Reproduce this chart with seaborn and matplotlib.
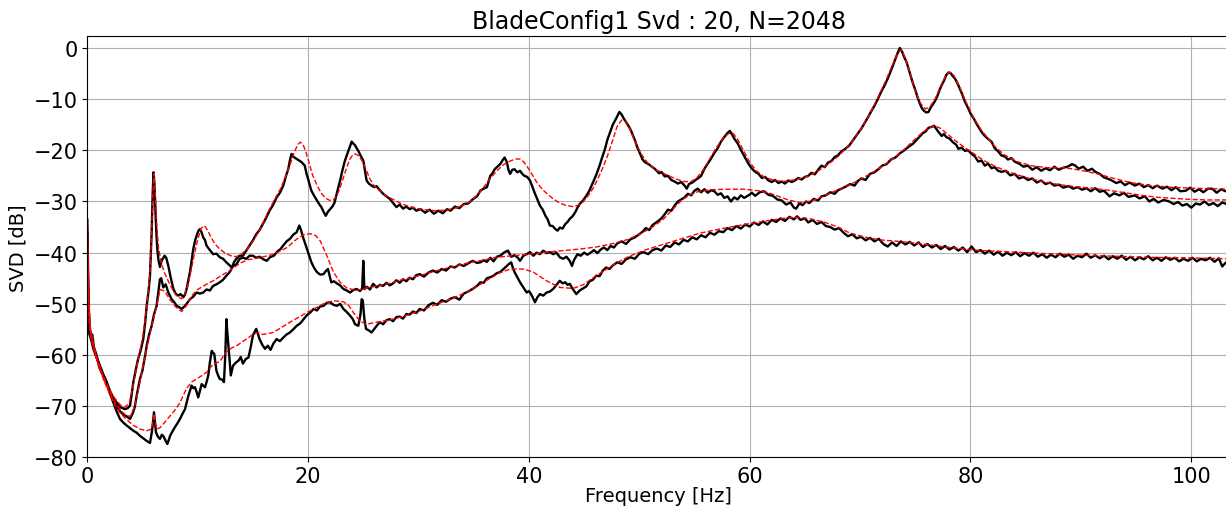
"""
BladeConfig1 SVD spectrum: three singular-value curves (measured, black)
with their fitted model curves (red dashed).
"""

import numpy as np
import pandas as pd
import matplotlib
matplotlib.use('Agg')
import matplotlib.pyplot as plt
import seaborn as sns

# --- measured singular values (black) -------------------------------------
sv1_freq = [0.0, 0.1, 0.2, 0.3, 0.45, 0.6, 0.85, 1.1, 1.4, 1.75, 2.05, 2.36, 2.65, 2.96, 3.2, 3.4, 3.65, 3.87,
            4.0, 4.17, 4.4, 4.6, 4.85, 5.07, 5.25, 5.38, 5.55, 5.68, 5.83, 5.93, 6.0, 6.08, 6.15, 6.25, 6.34,
            6.45, 6.58, 6.75, 7.0, 7.15, 7.34, 7.55, 7.8, 8.0, 8.24, 8.45, 8.7, 8.85, 9.0, 9.15, 9.3, 9.45,
            9.6, 9.75, 9.9, 10.05, 10.2, 10.35, 10.5, 10.65, 10.8, 11.1, 11.4, 11.7, 12.0, 12.3, 12.6, 12.85,
            13.1, 13.3, 13.5, 13.8, 14.1, 14.4, 14.7, 15.0, 15.3, 15.6, 15.9, 16.2, 16.5, 16.8, 17.15, 17.45,
            17.75, 18.0, 18.2, 18.35, 18.5, 18.7, 18.97, 19.2, 19.45, 19.7, 19.85, 20.0, 20.15, 20.3, 20.55,
            20.8, 21.0, 21.2, 21.4, 21.6, 21.8, 22.0, 22.2, 22.4, 22.65, 22.9, 23.1, 23.3, 23.45, 23.6, 23.8,
            23.95, 24.1, 24.25, 24.4, 24.55, 24.75, 25.0, 25.15, 25.3, 25.5, 25.75, 26.0, 26.2, 26.5, 26.8,
            27.1, 27.4, 27.7, 28.0, 28.3, 28.6, 28.9, 29.2, 29.5, 29.8, 30.2, 30.6, 31.0, 31.4, 31.8, 32.2,
            32.6, 32.9, 33.3, 33.7, 34.1, 34.5, 34.9, 35.3, 35.6, 35.9, 36.2, 36.5, 36.7, 36.9, 37.15, 37.4,
            37.6, 37.8, 38.0, 38.15, 38.3, 38.5, 38.7, 38.95, 39.2, 39.4, 39.6, 39.85, 40.1, 40.3, 40.5, 40.75,
            41.0, 41.25, 41.5, 41.7, 41.9, 42.15, 42.4, 42.6, 42.8, 43.05, 43.3, 43.5, 43.7, 43.95, 44.2, 44.4,
            44.6, 44.9, 45.2, 45.5, 45.8, 46.1, 46.4, 46.65, 46.9, 47.1, 47.35, 47.6, 47.9, 48.2, 48.4, 48.6,
            48.9, 49.1, 49.3, 49.6, 49.8, 50.0, 50.3, 50.5, 50.9, 51.2, 51.4, 51.8, 52.0, 52.3, 52.6, 52.9,
            53.2, 53.5, 53.8, 54.1, 54.3, 54.5, 54.8, 55.1, 55.3, 55.6, 55.9, 56.2, 56.5, 56.8, 57.1, 57.4,
            57.7, 58.0, 58.2, 58.4, 58.6, 58.9, 59.1, 59.3, 59.6, 59.8, 60.0, 60.3, 60.5, 60.8, 61.1, 61.4,
            61.7, 62.0, 62.3, 62.6, 62.9, 63.2, 63.5, 63.8, 64.1, 64.4, 64.7, 65.0, 65.3, 65.6, 65.9, 66.2,
            66.5, 66.8, 67.1, 67.4, 67.7, 68.0, 68.3, 68.6, 69.0, 69.3, 69.6, 69.8, 70.1, 70.4, 70.7, 71.0,
            71.3, 71.6, 71.9, 72.2, 72.5, 72.8, 73.1, 73.4, 73.6, 73.8, 74.0, 74.2, 74.4, 74.6, 74.8, 75.0,
            75.2, 75.4, 75.6, 75.8, 76.0, 76.2, 76.4, 76.6, 76.8, 77.0, 77.2, 77.4, 77.6, 77.8, 78.0, 78.2,
            78.4, 78.6, 78.8, 79.0, 79.2, 79.5, 79.8, 80.0, 80.3, 80.6, 81.0, 81.3, 81.6, 81.9, 82.2, 82.5,
            82.8, 83.1, 83.4, 83.7, 84.0, 84.4, 84.8, 85.2, 85.6, 86.0, 86.4, 86.8, 87.2, 87.6, 88.0, 88.4,
            88.8, 89.2, 89.5, 89.8, 90.2, 90.6, 91.0, 91.3, 91.7, 92.1, 92.5, 92.8, 93.2, 93.6, 94.0, 94.4,
            94.9, 95.3, 95.7, 96.1, 96.5, 96.9, 97.4, 97.8, 98.2, 98.6, 99.0, 99.5, 99.9, 100.3, 100.7, 101.1,
            101.5, 101.9, 102.3, 102.7, 103.1, 103.7]
sv1_db = [-33.4, -48.0, -55.5, -56.5, -56.0, -58.5, -60.1, -62.5, -63.8, -65.3, -67.0, -68.4, -69.3, -70.2,
          -70.4, -70.6, -70.4, -69.9, -68.0, -65.3, -62.8, -60.8, -59.0, -56.9, -53.5, -50.4, -47.5, -44.5,
          -36.0, -28.0, -24.3, -26.5, -30.5, -36.0, -39.3, -41.5, -42.8, -41.5, -40.6, -41.0, -42.6, -44.8,
          -47.1, -48.0, -48.4, -48.1, -48.7, -48.2, -47.1, -45.5, -43.8, -41.5, -39.3, -37.8, -36.7, -35.8,
          -35.4, -36.0, -37.0, -37.5, -38.6, -39.5, -40.3, -40.2, -40.9, -41.2, -41.9, -42.4, -42.9, -41.8,
          -41.2, -40.6, -40.6, -39.6, -38.6, -37.6, -36.4, -35.6, -34.4, -33.2, -31.8, -30.8, -29.2, -28.3,
          -26.9, -25.0, -23.7, -22.0, -20.7, -21.3, -21.7, -22.0, -22.4, -23.0, -24.5, -25.6, -26.8, -27.9,
          -28.9, -29.8, -30.5, -31.1, -32.0, -32.8, -32.0, -31.5, -31.0, -30.2, -28.0, -25.9, -24.0, -22.3,
          -21.3, -20.4, -19.2, -18.3, -18.7, -19.0, -19.6, -20.1, -21.0, -22.0, -24.0, -25.9, -26.5, -26.9,
          -27.2, -27.0, -27.8, -28.5, -29.0, -29.5, -30.3, -31.1, -30.6, -31.4, -31.0, -31.5, -31.2, -31.8,
          -31.5, -32.2, -31.6, -32.4, -31.8, -32.3, -31.5, -31.8, -31.0, -31.3, -30.5, -30.4, -29.6, -29.0,
          -27.9, -27.5, -27.2, -25.0, -24.5, -23.7, -23.2, -22.7, -22.0, -21.4, -22.3, -23.8, -24.6, -23.8,
          -23.7, -24.3, -24.0, -24.6, -25.0, -25.2, -25.9, -27.0, -28.2, -29.5, -30.8, -31.6, -32.8, -33.5,
          -34.7, -34.8, -35.4, -35.7, -35.1, -35.3, -34.4, -34.0, -33.4, -32.9, -32.1, -31.2, -30.5, -29.8,
          -28.9, -27.8, -26.3, -24.8, -23.0, -21.3, -19.7, -18.0, -16.5, -15.0, -13.8, -12.5, -13.0, -13.8,
          -14.8, -15.5, -16.4, -18.0, -19.3, -20.3, -21.8, -22.3, -22.8, -23.3, -23.6, -24.5, -24.2, -25.1,
          -25.0, -25.8, -26.1, -26.5, -26.2, -26.9, -27.5, -26.6, -26.3, -25.8, -25.5, -25.0, -23.6, -22.6,
          -21.6, -20.5, -19.6, -18.3, -17.4, -16.6, -16.2, -16.9, -17.7, -18.6, -19.5, -20.3, -21.5, -22.3,
          -23.0, -23.8, -24.2, -24.6, -25.4, -25.2, -25.9, -26.2, -25.8, -26.4, -26.1, -26.5, -25.9, -26.2,
          -25.9, -25.4, -25.7, -25.2, -25.0, -24.4, -24.7, -23.8, -23.0, -23.3, -22.4, -22.1, -21.3, -21.0,
          -20.2, -19.8, -19.1, -18.2, -17.3, -16.7, -15.8, -14.7, -13.6, -12.4, -11.3, -10.0, -8.6, -7.4,
          -6.0, -4.4, -2.7, -1.0, 0.0, -0.7, -1.8, -2.7, -4.1, -5.6, -7.0, -8.2, -9.6, -10.8, -11.8, -12.3,
          -12.6, -12.5, -11.6, -11.0, -10.3, -9.4, -8.2, -7.2, -6.4, -5.3, -4.8, -4.9, -5.5, -6.0, -6.8,
          -7.8, -8.8, -10.5, -11.8, -12.8, -13.8, -15.0, -16.4, -17.2, -17.8, -18.3, -19.6, -20.2, -21.0,
          -21.2, -21.8, -21.5, -22.2, -22.6, -23.2, -23.0, -23.8, -23.3, -24.0, -23.5, -23.9, -23.2, -23.8,
          -23.4, -23.2, -22.7, -23.0, -23.6, -23.2, -24.0, -23.6, -24.2, -24.6, -25.3, -25.6, -25.9, -26.4,
          -26.1, -26.8, -26.3, -26.9, -26.5, -27.2, -26.8, -27.4, -26.9, -27.5, -27.1, -27.8, -27.2, -28.0,
          -27.9, -27.3, -28.1, -27.6, -28.2, -27.5, -27.5, -28.3, -27.6, -28.0, -27.6]

sv2_freq = [0.0, 0.1, 0.2, 0.35, 0.55, 0.85, 1.15, 1.45, 1.75, 2.05, 2.36, 2.65, 2.96, 3.25, 3.57, 3.87, 4.1,
            4.3, 4.47, 4.65, 4.77, 5.0, 5.07, 5.25, 5.38, 5.6, 5.83, 6.05, 6.28, 6.42, 6.58, 6.7, 6.88, 7.1,
            7.34, 7.64, 7.85, 8.1, 8.35, 8.55, 8.85, 9.1, 9.3, 9.6, 9.9, 10.2, 10.5, 10.8, 11.1, 11.4, 11.7,
            12.0, 12.3, 12.6, 12.9, 13.2, 13.5, 13.8, 14.1, 14.4, 14.7, 15.0, 15.3, 15.6, 15.95, 16.25, 16.55,
            16.9, 17.2, 17.5, 17.75, 18.05, 18.36, 18.65, 18.97, 19.2, 19.35, 19.5, 19.7, 19.9, 20.1, 20.3,
            20.55, 20.8, 21.1, 21.4, 21.6, 21.8, 22.1, 22.35, 22.6, 22.9, 23.2, 23.5, 23.8, 24.1, 24.4, 24.7,
            24.9, 25.0, 25.1, 25.35, 25.6, 25.9, 26.2, 26.5, 26.8, 27.1, 27.4, 27.7, 28.0, 28.3, 28.6, 28.9,
            29.2, 29.5, 29.8, 30.1, 30.5, 30.9, 31.3, 31.7, 32.1, 32.5, 32.9, 33.3, 33.7, 34.1, 34.5, 34.9,
            35.3, 35.6, 35.9, 36.2, 36.5, 36.8, 37.1, 37.4, 37.8, 38.1, 38.4, 38.7, 39.0, 39.2, 39.5, 39.8,
            40.1, 40.4, 40.7, 41.0, 41.3, 41.6, 41.9, 42.2, 42.5, 42.8, 43.1, 43.4, 43.7, 43.9, 44.1, 44.4,
            44.7, 45.0, 45.3, 45.6, 45.9, 46.2, 46.5, 46.8, 47.1, 47.4, 47.7, 48.0, 48.4, 48.8, 49.2, 49.6,
            50.0, 50.3, 50.6, 50.9, 51.2, 51.6, 52.0, 52.3, 52.6, 52.9, 53.2, 53.5, 53.8, 54.1, 54.4, 54.7,
            55.0, 55.3, 55.6, 55.9, 56.2, 56.5, 56.8, 57.1, 57.4, 57.7, 58.0, 58.3, 58.6, 58.9, 59.2, 59.5,
            59.9, 60.2, 60.5, 60.9, 61.3, 61.7, 62.1, 62.5, 62.9, 63.3, 63.7, 64.0, 64.2, 64.5, 64.8, 65.1,
            65.4, 65.8, 66.2, 66.5, 66.9, 67.3, 67.7, 68.0, 68.3, 68.7, 69.1, 69.5, 69.8, 70.1, 70.5, 70.9,
            71.3, 71.7, 72.0, 72.4, 72.8, 73.2, 73.6, 74.0, 74.4, 74.8, 75.1, 75.4, 75.7, 75.9, 76.2, 76.5,
            76.7, 76.9, 77.1, 77.4, 77.6, 77.8, 78.1, 78.4, 78.7, 78.9, 79.2, 79.5, 79.8, 80.1, 80.4, 80.7,
            81.0, 81.3, 81.6, 81.9, 82.2, 82.5, 82.8, 83.2, 83.6, 84.0, 84.4, 84.8, 85.2, 85.6, 86.0, 86.4,
            86.8, 87.2, 87.6, 88.0, 88.4, 88.9, 89.3, 89.7, 90.1, 90.5, 90.9, 91.3, 91.7, 92.1, 92.6, 93.0,
            93.5, 93.9, 94.3, 94.9, 95.3, 95.8, 96.2, 96.6, 97.0, 97.5, 98.0, 98.4, 98.8, 99.2, 99.6, 100.0,
            100.4, 100.8, 101.2, 101.6, 102.0, 102.4, 102.8, 103.2, 103.7]
sv2_db = [-36.0, -50.0, -55.0, -56.0, -58.5, -60.5, -62.5, -64.0, -65.5, -67.3, -69.0, -70.0, -71.0, -71.6,
          -72.0, -72.5, -71.5, -70.2, -68.0, -66.0, -64.7, -63.0, -62.1, -60.0, -58.2, -56.0, -54.3, -52.0,
          -50.4, -48.0, -45.2, -45.0, -46.8, -46.2, -47.8, -49.1, -49.6, -50.4, -50.7, -51.0, -50.4, -49.7,
          -49.1, -48.6, -47.8, -48.0, -47.8, -47.2, -47.4, -46.5, -46.2, -45.8, -45.3, -44.5, -43.8, -42.6,
          -42.3, -41.2, -41.0, -41.2, -40.6, -40.6, -41.0, -40.8, -41.3, -41.6, -40.9, -40.6, -39.8, -39.3,
          -38.6, -37.8, -37.3, -36.5, -36.0, -34.7, -35.5, -36.7, -38.0, -39.3, -40.6, -41.9, -43.0, -43.8,
          -44.3, -44.2, -43.6, -43.2, -45.8, -45.6, -46.0, -46.4, -47.1, -47.4, -47.8, -47.3, -47.1, -47.5,
          -47.0, -41.6, -47.1, -46.7, -47.2, -46.1, -46.8, -46.3, -46.5, -45.9, -46.4, -46.0, -45.4, -45.9,
          -45.2, -45.6, -44.9, -45.2, -44.4, -44.2, -44.7, -43.9, -43.5, -43.9, -43.2, -43.5, -42.7, -42.9,
          -42.3, -42.6, -42.1, -41.6, -42.0, -41.9, -41.5, -41.8, -41.0, -41.7, -40.8, -40.6, -39.9, -39.6,
          -40.8, -40.5, -41.0, -41.6, -40.6, -40.3, -39.9, -40.6, -40.0, -40.3, -39.6, -40.1, -39.9, -40.3,
          -40.0, -40.9, -41.2, -40.8, -41.6, -42.6, -41.4, -40.3, -40.6, -40.0, -40.4, -40.0, -39.5, -40.1,
          -39.4, -39.0, -39.5, -38.7, -39.0, -38.2, -37.8, -38.3, -37.4, -37.0, -36.4, -35.9, -35.2, -35.6,
          -34.6, -34.0, -33.3, -32.5, -31.6, -31.8, -30.8, -30.0, -29.6, -29.2, -28.5, -28.8, -27.9, -27.5,
          -28.2, -27.6, -28.3, -27.8, -28.0, -28.7, -28.4, -29.3, -29.0, -30.0, -29.2, -29.6, -28.8, -29.3,
          -28.8, -28.3, -28.9, -28.2, -28.0, -28.7, -28.9, -29.6, -29.8, -30.6, -30.2, -31.2, -31.4, -30.4,
          -30.7, -30.0, -30.3, -29.5, -29.8, -29.0, -28.8, -28.2, -28.5, -27.8, -27.5, -27.1, -26.6, -26.9,
          -26.0, -25.5, -25.8, -24.6, -24.3, -23.6, -23.0, -22.7, -21.8, -21.4, -20.6, -20.0, -19.3, -18.7,
          -18.0, -17.3, -16.6, -16.4, -15.6, -15.4, -15.2, -15.8, -16.4, -17.2, -16.8, -17.4, -17.7, -18.4,
          -18.9, -19.7, -19.5, -20.1, -20.0, -20.7, -21.2, -22.2, -22.0, -23.0, -22.6, -23.5, -23.3, -24.0,
          -24.2, -24.0, -24.9, -24.6, -25.5, -25.2, -25.8, -25.5, -26.3, -25.9, -26.6, -26.3, -26.9, -26.7,
          -27.3, -27.0, -27.5, -27.2, -27.7, -27.4, -28.0, -27.4, -28.1, -27.9, -29.0, -28.4, -28.8, -28.3,
          -29.1, -28.8, -29.4, -29.0, -30.0, -29.5, -30.2, -29.7, -30.0, -30.5, -30.1, -30.8, -30.5, -31.2,
          -30.4, -30.6, -30.0, -30.7, -30.3, -30.9, -30.2, -30.5, -30.0]

sv3_freq = [0.0, 0.1, 0.2, 0.35, 0.55, 0.85, 1.15, 1.45, 1.75, 2.05, 2.36, 2.65, 2.96, 3.25, 3.57, 3.87, 4.17,
            4.47, 4.77, 5.07, 5.38, 5.68, 5.85, 5.92, 6.04, 6.15, 6.22, 6.4, 6.58, 6.75, 6.9, 7.1, 7.25, 7.4,
            7.5, 7.7, 7.94, 8.15, 8.4, 8.6, 8.85, 9.0, 9.15, 9.3, 9.45, 9.6, 9.75, 9.9, 10.05, 10.2, 10.36,
            10.5, 10.66, 10.8, 10.96, 11.1, 11.27, 11.4, 11.5, 11.6, 11.7, 11.85, 12.0, 12.2, 12.38, 12.5,
            12.6, 12.7, 12.8, 13.0, 13.2, 13.45, 13.7, 13.9, 14.1, 14.35, 14.6, 14.8, 15.0, 15.3, 15.45, 15.6,
            15.85, 16.1, 16.35, 16.6, 16.85, 17.15, 17.45, 17.75, 18.05, 18.36, 18.65, 18.97, 19.3, 19.6,
            19.9, 20.2, 20.5, 20.8, 21.1, 21.4, 21.7, 22.0, 22.3, 22.6, 22.9, 23.2, 23.5, 23.8, 24.05, 24.25,
            24.55, 24.75, 24.85, 24.95, 25.1, 25.25, 25.5, 25.75, 26.0, 26.25, 26.5, 26.8, 27.1, 27.4, 27.7,
            28.0, 28.3, 28.6, 28.9, 29.2, 29.5, 29.8, 30.1, 30.5, 30.9, 31.3, 31.7, 32.1, 32.5, 32.9, 33.3,
            33.7, 34.1, 34.5, 34.9, 35.3, 35.6, 35.9, 36.2, 36.5, 36.8, 37.1, 37.4, 37.7, 38.0, 38.2, 38.4,
            38.55, 38.7, 38.95, 39.2, 39.5, 39.8, 40.0, 40.2, 40.4, 40.55, 40.75, 41.0, 41.3, 41.6, 41.9,
            42.2, 42.5, 42.8, 43.05, 43.3, 43.5, 43.7, 44.0, 44.3, 44.6, 44.9, 45.2, 45.5, 45.8, 46.1, 46.4,
            46.7, 47.0, 47.3, 47.6, 48.0, 48.4, 48.8, 49.2, 49.6, 50.0, 50.4, 50.8, 51.2, 51.6, 52.0, 52.4,
            52.8, 53.2, 53.6, 54.0, 54.4, 54.8, 55.2, 55.6, 56.0, 56.4, 56.8, 57.2, 57.6, 58.0, 58.4, 58.8,
            59.2, 59.6, 60.0, 60.4, 60.8, 61.2, 61.6, 62.0, 62.4, 62.8, 63.2, 63.6, 64.0, 64.3, 64.6, 65.0,
            65.3, 65.7, 66.1, 66.5, 66.9, 67.3, 67.7, 68.1, 68.5, 68.9, 69.3, 69.7, 70.1, 70.5, 70.9, 71.3,
            71.7, 72.1, 72.5, 72.9, 73.3, 73.7, 74.1, 74.5, 74.9, 75.3, 75.7, 76.1, 76.5, 76.9, 77.3, 77.7,
            78.1, 78.5, 78.9, 79.3, 79.7, 80.1, 80.5, 80.9, 81.3, 81.7, 82.1, 82.5, 82.9, 83.3, 83.7, 84.1,
            84.5, 84.9, 85.3, 85.7, 86.1, 86.5, 86.9, 87.3, 87.7, 88.1, 88.5, 88.9, 89.3, 89.7, 90.1, 90.5,
            90.9, 91.3, 91.7, 92.1, 92.5, 92.9, 93.3, 93.7, 94.1, 94.5, 94.9, 95.3, 95.7, 96.1, 96.5, 96.9,
            97.3, 97.7, 98.1, 98.5, 98.9, 99.3, 99.7, 100.1, 100.5, 100.9, 101.3, 101.7, 102.1, 102.5, 102.8,
            103.1, 103.7]
sv3_db = [-40.0, -52.0, -56.0, -57.0, -58.8, -60.5, -62.1, -63.8, -65.3, -67.5, -69.3, -71.0, -72.5, -73.2,
          -73.8, -74.3, -74.8, -75.2, -75.8, -76.3, -76.8, -77.2, -75.0, -73.8, -71.2, -73.5, -75.1, -76.0,
          -76.4, -75.6, -75.9, -76.8, -77.4, -76.5, -75.8, -75.0, -74.1, -73.4, -72.5, -71.6, -70.6, -69.3,
          -68.0, -67.0, -66.0, -66.5, -66.3, -67.2, -68.3, -67.0, -65.7, -66.0, -66.3, -65.3, -64.0, -61.5,
          -59.2, -59.6, -59.8, -61.5, -63.1, -64.0, -64.7, -64.8, -65.3, -60.0, -53.0, -56.0, -58.6, -64.0,
          -62.1, -61.5, -61.1, -60.4, -61.7, -60.8, -60.5, -58.5, -56.2, -54.9, -55.8, -56.9, -58.0, -58.8,
          -58.2, -59.0, -57.8, -56.9, -57.3, -56.6, -56.0, -55.6, -55.0, -54.3, -53.8, -53.0, -52.2, -51.7,
          -51.0, -51.3, -50.5, -50.4, -49.8, -49.7, -50.2, -50.4, -50.0, -51.0, -51.6, -52.3, -53.0, -54.0,
          -54.3, -52.0, -49.1, -49.3, -53.0, -54.9, -55.2, -55.6, -54.9, -54.2, -53.6, -54.0, -53.2, -53.0,
          -53.4, -52.6, -52.5, -52.9, -52.0, -52.1, -51.5, -51.8, -51.0, -51.3, -50.3, -49.8, -50.2, -49.3,
          -49.6, -49.0, -48.7, -49.2, -48.0, -47.6, -47.1, -46.5, -45.8, -45.9, -45.0, -44.8, -44.5, -44.0,
          -43.8, -43.2, -42.6, -42.2, -41.9, -43.0, -43.8, -44.8, -45.8, -46.8, -47.8, -47.5, -48.1, -49.0,
          -49.7, -48.8, -48.1, -48.4, -47.8, -47.6, -47.1, -46.3, -45.5, -46.0, -45.8, -46.3, -46.1, -47.2,
          -48.1, -47.4, -47.0, -46.6, -45.6, -45.3, -44.5, -44.6, -43.5, -42.9, -43.2, -42.5, -41.9, -42.2,
          -41.3, -40.9, -41.2, -40.2, -39.9, -40.3, -39.5, -39.2, -39.6, -38.6, -38.9, -38.0, -38.4, -37.5,
          -37.8, -37.0, -37.4, -36.6, -37.0, -36.1, -36.5, -35.8, -36.0, -35.2, -35.6, -34.8, -35.3, -34.5,
          -34.9, -34.1, -34.6, -33.9, -34.5, -33.6, -34.0, -33.3, -33.8, -33.0, -33.5, -32.9, -33.6, -33.3,
          -34.1, -33.6, -34.4, -34.0, -34.8, -35.0, -35.5, -35.2, -36.1, -36.8, -36.4, -37.2, -36.9, -37.6,
          -37.1, -37.8, -37.3, -38.3, -38.8, -38.0, -38.7, -37.8, -38.4, -37.9, -38.6, -38.0, -38.9, -38.3,
          -39.0, -38.5, -39.3, -38.7, -39.4, -38.9, -39.6, -39.0, -39.9, -38.8, -39.9, -39.5, -40.2, -39.6,
          -40.4, -39.8, -40.6, -40.0, -40.5, -39.9, -40.7, -40.1, -40.6, -40.0, -40.8, -40.3, -41.0, -40.4,
          -40.9, -40.2, -40.8, -40.4, -41.2, -40.6, -40.9, -40.2, -41.0, -40.5, -41.1, -40.6, -41.3, -40.7,
          -41.2, -40.6, -41.4, -40.8, -41.5, -40.9, -41.3, -40.7, -41.5, -41.0, -41.6, -40.9, -41.4, -41.0,
          -41.7, -41.2, -41.6, -41.0, -41.7, -41.2, -41.5, -41.0, -41.8, -41.1, -42.7, -42.0, -41.3]

# --- fitted model (red dashed) ---------------------------------------------
fit1_freq = [0.0, 0.15, 0.3, 0.6, 1.0, 1.5, 2.0, 2.5, 3.0, 3.4, 3.8, 4.2, 4.6, 5.0, 5.4, 5.7, 5.85, 5.95, 6.05,
             6.15, 6.3, 6.45, 6.7, 7.0, 7.5, 8.0, 8.3, 8.55, 8.8, 9.1, 9.4, 9.7, 10.0, 10.3, 10.6, 10.9, 11.2,
             11.6, 12.0, 12.5, 13.0, 13.5, 14.0, 14.5, 15.0, 15.5, 16.0, 16.5, 17.0, 17.5, 18.0, 18.4, 18.8,
             19.1, 19.3, 19.55, 19.8, 20.1, 20.4, 20.8, 21.2, 21.6, 22.0, 22.3, 22.6, 22.9, 23.2, 23.5, 23.8,
             24.05, 24.3, 24.6, 24.9, 25.2, 25.6, 26.0, 26.5, 27.0, 27.7, 28.5, 29.5, 30.5, 31.5, 32.5, 33.5,
             34.5, 35.3, 35.8, 36.5, 37.1, 37.7, 38.3, 38.8, 39.2, 39.5, 39.8, 40.2, 40.7, 41.2, 41.6, 42.2,
             42.8, 43.4, 44.0, 44.5, 44.9, 45.4, 45.8, 46.3, 46.7, 47.1, 47.6, 48.0, 48.4, 48.7, 49.1, 49.6,
             50.2, 50.8, 51.5, 52.3, 53.2, 54.0, 54.7, 55.2, 55.8, 56.4, 57.0, 57.6, 58.1, 58.5, 58.9, 59.4,
             60.0, 60.6, 61.3, 62.1, 63.0, 64.0, 65.0, 66.0, 67.0, 68.0, 69.0, 70.0, 70.8, 71.6, 72.3, 72.9,
             73.4, 73.7, 74.0, 74.4, 74.9, 75.4, 75.9, 76.3, 76.8, 77.3, 77.8, 78.1, 78.5, 79.0, 79.6, 80.3,
             81.0, 82.0, 83.0, 84.2, 85.5, 87.0, 88.5, 90.0, 91.5, 93.0, 94.5, 96.0, 98.0, 100.0, 102.0, 103.7]
fit1_db = [-33.0, -50.0, -55.0, -58.3, -61.5, -64.3, -66.8, -68.5, -69.8, -70.2, -69.4, -65.5, -60.8, -56.8,
           -50.5, -43.0, -35.0, -28.0, -24.5, -28.0, -35.0, -39.0, -42.0, -44.0, -46.3, -48.2, -48.8, -49.0,
           -48.2, -46.5, -43.5, -40.3, -37.5, -35.3, -34.7, -35.6, -37.0, -38.4, -39.3, -40.1, -40.6, -40.8,
           -40.2, -39.3, -37.8, -36.0, -33.8, -31.5, -29.5, -27.5, -25.0, -22.6, -20.1, -18.8, -18.4, -18.9,
           -20.3, -22.5, -24.8, -26.8, -28.4, -29.4, -29.8, -29.7, -28.9, -27.3, -25.3, -23.3, -21.7, -20.9,
           -20.7, -21.1, -22.1, -23.5, -25.6, -27.0, -27.9, -28.8, -29.6, -30.5, -31.2, -31.6, -31.8, -31.7,
           -31.2, -30.3, -28.8, -27.5, -25.5, -24.0, -22.8, -22.1, -21.7, -21.7, -22.2, -23.0, -24.4, -26.2,
           -27.6, -28.4, -29.5, -30.3, -30.8, -31.0, -30.7, -30.1, -28.8, -27.5, -25.3, -23.4, -21.2, -18.0,
           -15.3, -14.1, -14.3, -15.6, -18.2, -20.8, -22.6, -23.8, -24.6, -25.5, -26.1, -26.1, -25.4, -23.8,
           -21.6, -19.4, -17.6, -16.7, -16.7, -17.8, -19.9, -22.3, -24.0, -25.2, -25.8, -26.1, -25.8, -25.3,
           -24.3, -22.9, -21.2, -19.0, -16.1, -13.2, -9.8, -6.5, -3.5, -1.1, -0.3, -1.5, -4.0, -7.8, -10.6,
           -11.9, -11.6, -9.9, -7.5, -5.2, -4.7, -5.4, -7.5, -10.6, -13.7, -16.1, -18.8, -20.8, -22.2, -23.0,
           -23.4, -23.4, -23.9, -24.6, -25.5, -26.3, -26.8, -27.2, -27.4, -27.5, -27.6]

fit2_freq = [0.0, 0.15, 0.3, 0.6, 1.0, 1.5, 2.0, 2.5, 3.0, 3.5, 3.9, 4.3, 4.7, 5.1, 5.5, 5.9, 6.3, 6.6, 7.0,
             7.5, 8.0, 8.55, 9.0, 9.5, 10.0, 10.7, 11.4, 12.2, 12.9, 13.8, 14.5, 15.6, 16.9, 18.1, 19.0, 19.6,
             20.2, 20.7, 21.1, 21.7, 22.3, 22.9, 23.5, 24.4, 25.3, 26.5, 27.4, 28.5, 30.1, 31.5, 33.0, 34.5,
             36.0, 37.1, 38.6, 40.1, 41.6, 43.1, 44.6, 46.1, 47.7, 49.0, 50.2, 51.2, 52.2, 53.0, 53.8, 54.6,
             55.3, 56.5, 58.0, 59.5, 60.8, 61.7, 62.6, 63.5, 64.5, 65.3, 66.0, 66.8, 67.8, 69.0, 70.1, 71.3,
             72.5, 73.6, 74.6, 75.5, 76.2, 76.7, 77.2, 77.8, 78.5, 79.3, 80.2, 81.2, 82.4, 83.7, 85.0, 86.5,
             88.0, 89.5, 91.0, 92.5, 94.0, 95.5, 97.0, 98.5, 100.0, 101.5, 103.7]
fit2_db = [-35.0, -51.0, -55.5, -58.6, -61.8, -64.8, -67.2, -69.2, -70.8, -71.8, -72.0, -70.0, -66.0, -61.5,
           -57.5, -53.8, -50.2, -47.2, -47.5, -49.2, -50.6, -51.5, -50.3, -48.3, -47.2, -46.3, -45.5, -44.4,
           -43.5, -42.1, -41.4, -41.0, -40.3, -39.0, -37.3, -36.5, -36.3, -36.7, -37.7, -40.6, -43.8, -45.8,
           -46.9, -47.4, -46.9, -46.4, -46.0, -45.3, -44.5, -43.6, -42.8, -42.0, -41.4, -40.9, -40.6, -40.3,
           -39.9, -39.6, -39.3, -38.9, -38.2, -37.4, -36.2, -35.0, -33.4, -31.6, -29.8, -28.7, -28.1, -27.7,
           -27.6, -27.6, -27.9, -28.3, -29.0, -29.7, -30.2, -30.0, -29.6, -28.9, -27.9, -26.8, -25.6, -24.1,
           -22.4, -20.6, -18.6, -16.8, -15.6, -15.2, -15.6, -16.6, -17.9, -19.2, -20.5, -22.0, -23.3, -24.4,
           -25.3, -26.1, -26.7, -27.1, -27.4, -27.8, -28.3, -28.8, -29.2, -29.4, -29.6, -29.7, -29.7]

fit3_freq = [0.0, 0.15, 0.3, 0.6, 1.0, 1.5, 2.0, 2.5, 3.0, 3.6, 4.2, 4.8, 5.4, 5.8, 5.95, 6.05, 6.15, 6.3, 6.6,
             7.0, 7.5, 8.0, 8.4, 9.0, 9.5, 9.9, 10.4, 10.8, 11.4, 12.0, 12.6, 13.1, 13.6, 14.4, 15.0, 15.4,
             15.9, 16.85, 18.36, 19.9, 21.4, 22.3, 23.2, 23.7, 24.1, 24.7, 25.3, 26.2, 27.7, 29.0, 30.1, 31.5,
             33.0, 34.5, 35.6, 36.5, 37.3, 38.3, 39.5, 40.4, 41.6, 42.8, 44.0, 44.9, 46.1, 47.7, 49.0, 50.5,
             52.0, 53.8, 55.5, 57.0, 58.5, 60.0, 61.5, 63.0, 64.4, 65.5, 66.7, 68.0, 69.0, 70.3, 71.8, 73.5,
             75.3, 77.0, 79.0, 81.0, 84.0, 87.0, 90.0, 93.0, 96.0, 99.0, 101.5, 103.7]
fit3_db = [-40.0, -53.0, -56.5, -59.0, -62.0, -65.0, -67.5, -69.8, -71.4, -72.7, -73.8, -74.5, -74.8, -74.5,
           -73.0, -71.5, -73.0, -74.5, -74.2, -73.2, -71.9, -70.6, -69.3, -66.5, -65.2, -64.7, -64.0, -63.4,
           -61.8, -61.3, -59.4, -58.6, -58.1, -56.9, -56.0, -55.6, -56.0, -55.6, -53.6, -51.7, -50.0, -49.4,
           -49.6, -50.4, -51.7, -53.4, -54.0, -53.6, -53.0, -52.2, -51.4, -50.2, -49.0, -47.6, -46.2, -45.0,
           -44.0, -43.2, -43.2, -43.8, -45.5, -46.8, -47.0, -46.3, -44.5, -42.3, -40.8, -39.5, -38.5, -37.3,
           -36.2, -35.5, -34.9, -34.3, -33.8, -33.3, -33.1, -33.4, -34.0, -35.0, -36.1, -36.9, -37.5, -37.8,
           -38.2, -38.7, -39.2, -39.6, -39.9, -40.2, -40.5, -40.7, -40.9, -41.0, -41.1, -41.2]

TITLE = 'BladeConfig1 Svd : 20, N=2048'

sns.set_style('ticks')
plt.rcParams.update({
    'font.family': 'DejaVu Sans',
    'font.size': 14,
    'axes.edgecolor': 'black',
    'axes.linewidth': 0.8,
    'xtick.color': 'black',
    'ytick.color': 'black',
    'xtick.labelsize': 15,
    'ytick.labelsize': 15,
    'xtick.major.pad': 2.5,
    'axes.labelcolor': 'black',
    'text.color': 'black',
})


def main():
    fig = plt.figure(figsize=(12.26, 5.1), dpi=100)
    ax = fig.add_axes([0.0712, 0.1014, 0.9320, 0.8251])

    measured = [(sv1_freq, sv1_db), (sv2_freq, sv2_db), (sv3_freq, sv3_db)]
    fitted = [(fit1_freq, fit1_db), (fit2_freq, fit2_db), (fit3_freq, fit3_db)]

    for f, db in measured:
        df = pd.DataFrame({'f': f, 'db': db})
        sns.lineplot(data=df, x='f', y='db', ax=ax, color='black', linewidth=1.7,
                     estimator=None, sort=False)
    for f, db in fitted:
        df = pd.DataFrame({'f': f, 'db': db})
        sns.lineplot(data=df, x='f', y='db', ax=ax, color='red', linewidth=1.0,
                     linestyle='--', estimator=None, sort=False)

    ax.set_xlim(0, 103.5)
    ax.set_ylim(-80, 2.25)
    ax.set_xticks([0, 20, 40, 60, 80, 100])
    ax.set_yticks([0, -10, -20, -30, -40, -50, -60, -70, -80])
    ax.grid(True, color='#b0b0b0', linewidth=0.8)
    ax.set_title(TITLE, fontsize=17)
    ax.set_xlabel('Frequency [Hz]', labelpad=0)
    ax.set_ylabel('SVD [dB]')

    fig.savefig('out.png', dpi=100)
    plt.close(fig)


if __name__ == '__main__':
    main()
